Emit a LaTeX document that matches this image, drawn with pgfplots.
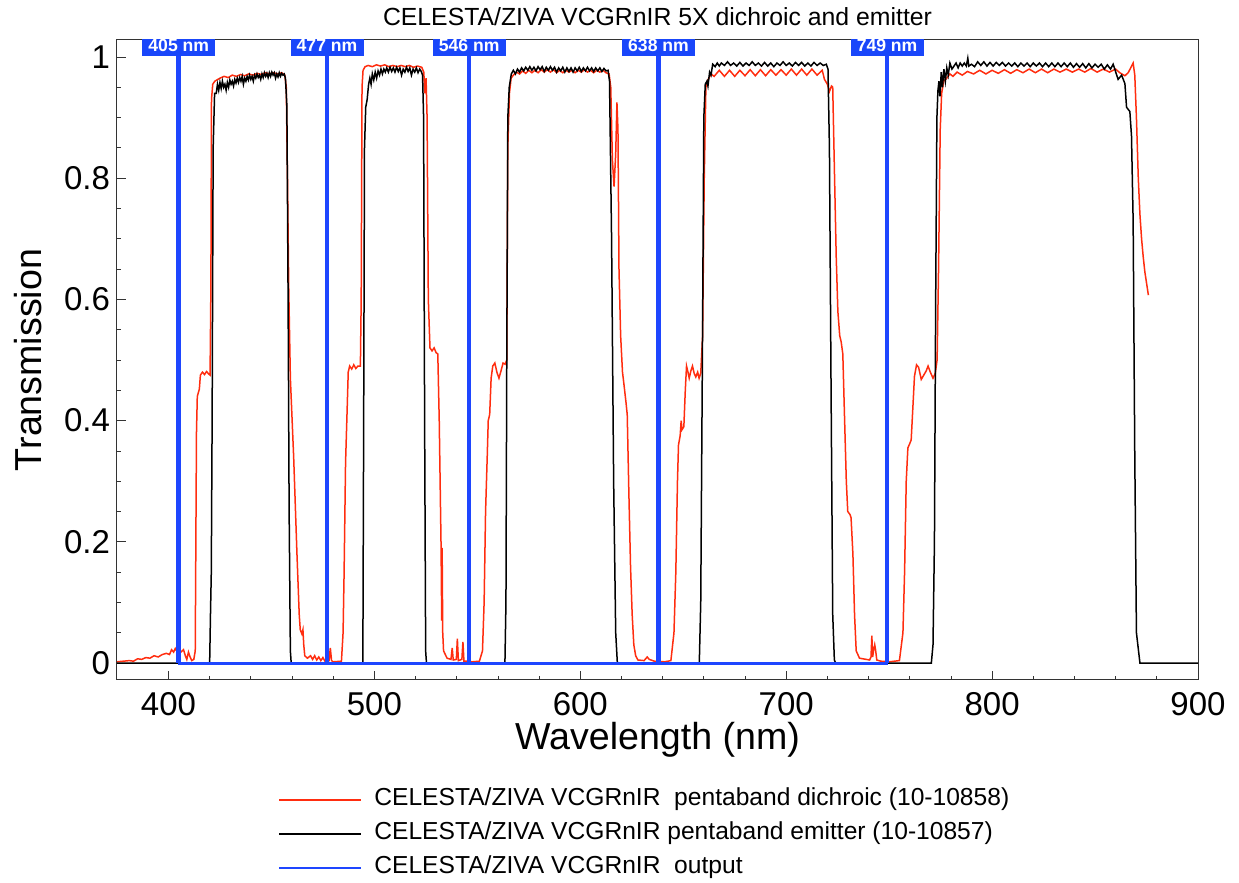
\documentclass[border=0pt]{standalone}
\usepackage{pgfplots}
\pgfplotsset{compat=1.18}
\usepackage{fontspec}
\setmainfont{Liberation Sans}
\definecolor{cred}{RGB}{255,45,15}
\definecolor{cblue}{RGB}{30,70,255}
\definecolor{cbox}{RGB}{25,70,250}
\begin{document}
\begin{tikzpicture}
\begin{axis}[
  scale only axis, width=540.5pt, height=320pt,
  xmin=375, xmax=900, ymin=-0.028, ymax=1.028,
  xtick={400,500,...,900}, minor x tick num=4,
  ytick={0,0.2,...,1}, minor y tick num=3,
  tick align=inside, xtick pos=bottom, ytick pos=left,
  major tick length=4.5pt, minor tick length=2.2pt,
  axis line style={line width=0.5pt, black!80},
  every tick/.style={black!80, line width=0.4pt},
  /pgf/number format/assume math mode=true,
  ticklabel style={font=\fontsize{16.5}{19}\selectfont},
  xticklabel style={yshift=-2.5pt},
  yticklabel style={/pgf/number format/fixed},
  xlabel={Wavelength (nm)}, ylabel={Transmission},
  every axis x label/.style={at={([yshift=-30pt]axis description cs:0.5,0)}, anchor=center, font=\fontsize{18.8}{22}\selectfont},
  every axis y label/.style={at={([xshift=-44.5pt]axis description cs:0,0.5)}, rotate=90, anchor=center, font=\fontsize{18.8}{22}\selectfont},
  title={CELESTA/ZIVA VCGRnIR 5X dichroic and emitter},
  every axis title/.style={at={([yshift=11.5pt]axis description cs:0.5,1)}, anchor=center, font=\fontsize{12.4}{14}\selectfont},
  legend style={at={(axis description cs:0,0)}, anchor=north west, xshift=80.5pt, yshift=-54pt, draw=none, fill=none, inner sep=0pt, row sep=5pt, column sep=6pt, font=\fontsize{12.3}{14}\selectfont, nodes={inner sep=0pt, text height=8.8pt, text depth=3.2pt}},
  legend cell align=left,
  legend image code/.code={\draw[#1] (0pt,0pt) -- (41pt,0pt);},
  clip=true,
]
\addlegendimage{cred, line width=1pt}
\addlegendentry{CELESTA/ZIVA VCGRnIR\ \ pentaband dichroic (10-10858)}
\addlegendimage{black, line width=1pt}
\addlegendentry{CELESTA/ZIVA VCGRnIR pentaband emitter (10-10857)}
\addlegendimage{cblue, line width=1pt}
\addlegendentry{CELESTA/ZIVA VCGRnIR\ \ output}
\addplot[cred, line width=0.75pt, forget plot] coordinates {
(375,0.002)(378,0.003)(381,0.004)(383,0.003)(385,0.007)(387,0.006)(389,0.009)(391,0.008)(393,0.012)(395,0.01)(397,0.014)(399,0.016)(400.5,0.014)(401.5,0.022)(402.5,0.018)(403.3,0.024)(404,0.02)(405,0.025)(406,0.018)(407.3,0.022)(408.2,0.012)(408.9,0.006)(409.7,0.018)(410.5,0.01)(411.3,0.004)(412.3,0.006)(413,0.02)(413.3,0.2)(413.6,0.38)(414,0.44)(415,0.452)(415.5,0.475)(416.5,0.48)(417.5,0.476)(418.5,0.481)(419.5,0.477)(420.2,0.475)(420.6,0.62)(420.9,0.93)(421.5,0.955)(422.5,0.96)(423.5,0.962)(425,0.965)(427,0.968)(429,0.966)(431,0.97)(433,0.968)(435,0.971)(437,0.969)(439,0.972)(441,0.97)(443,0.973)(445,0.971)(447,0.974)(449,0.972)(451,0.974)(453,0.972)(455,0.974)(456.5,0.97)(457.2,0.95)(457.8,0.8)(458.4,0.62)(459.2,0.47)(460.8,0.34)(462.4,0.18)(463.5,0.08)(464,0.055)(464.8,0.048)(465.3,0.055)(465.7,0.03)(466.2,0.012)(467.5,0.008)(469,0.012)(470,0.006)(471,0.012)(472,0.005)(473,0.01)(474,0.004)(475,0.009)(476,0.003)(478,0.004)(478.6,0.025)(479.2,0.004)(480,0.002)(484,0.003)(484.8,0.05)(485.3,0.15)(486,0.33)(486.7,0.41)(487.3,0.48)(488,0.49)(489,0.485)(490,0.492)(491,0.486)(492,0.49)(493.2,0.49)(493.6,0.6)(494,0.95)(494.5,0.978)(495.5,0.984)(497,0.986)(499,0.984)(501,0.987)(503,0.985)(505,0.987)(507,0.984)(509,0.986)(511,0.984)(513,0.986)(515,0.984)(517,0.986)(519,0.983)(521,0.985)(523,0.983)(524,0.975)(524.5,0.94)(525.1,0.965)(525.6,0.9)(526.2,0.6)(527,0.52)(528,0.515)(529,0.52)(530,0.512)(530.8,0.51)(531.5,0.4)(532.4,0.19)(532.7,0.07)(532.9,0.19)(533.2,0.05)(533.6,0.02)(535.3,0.008)(537.2,0.006)(537.8,0.025)(538.3,0.005)(539.8,0.006)(540.3,0.04)(540.8,0.004)(542.5,0.006)(543,0.035)(543.5,0.003)(545,0.003)(547.5,0.002)(551,0.003)(552.5,0.02)(553.3,0.1)(554,0.25)(554.8,0.34)(555.3,0.4)(556,0.41)(556.7,0.47)(557.5,0.49)(558.5,0.495)(559.5,0.48)(560.5,0.47)(561.5,0.482)(562.5,0.495)(563.5,0.493)(564.3,0.5)(564.8,0.85)(565.6,0.94)(566.4,0.965)(567.5,0.97)(569,0.975)(570.5,0.972)(572,0.977)(573.5,0.973)(575,0.978)(576.5,0.974)(578,0.978)(579.5,0.974)(581,0.979)(582.5,0.975)(584,0.979)(585.5,0.975)(587,0.979)(588.5,0.974)(590,0.978)(591.5,0.974)(593,0.978)(594.5,0.975)(596,0.978)(597.5,0.974)(599,0.978)(600.5,0.975)(602,0.979)(603.5,0.975)(605,0.978)(606.5,0.974)(608,0.978)(609.5,0.975)(611,0.978)(612.5,0.974)(614,0.972)(614.8,0.95)(615.6,0.83)(616.4,0.786)(617.2,0.84)(617.8,0.925)(618.3,0.88)(618.8,0.65)(619.6,0.54)(620.5,0.48)(621.2,0.46)(622.2,0.43)(622.8,0.41)(623.6,0.28)(624.4,0.16)(625.2,0.08)(626,0.03)(626.9,0.012)(628,0.005)(631,0.004)(632.5,0.01)(633.5,0.006)(636,0.003)(641,0.002)(644,0.004)(645.5,0.05)(646.4,0.15)(647.2,0.3)(647.7,0.36)(648.5,0.375)(649,0.4)(649.4,0.385)(650.3,0.39)(651,0.45)(651.6,0.49)(652.3,0.48)(652.9,0.47)(653.7,0.482)(654.5,0.49)(655.3,0.478)(656.1,0.472)(657,0.48)(657.7,0.47)(658.5,0.478)(659.4,0.54)(660.2,0.8)(661,0.95)(662,0.962)(663.5,0.972)(665,0.968)(667.5,0.978)(670,0.968)(672.5,0.978)(675,0.968)(677.5,0.978)(680,0.969)(682.5,0.979)(685,0.969)(687.5,0.979)(690,0.969)(692.5,0.979)(695,0.97)(697.5,0.979)(700,0.97)(702.5,0.98)(705,0.97)(707.5,0.98)(710,0.97)(712.5,0.98)(715,0.97)(717.5,0.978)(718.6,0.963)(720,0.955)(721,0.943)(722,0.952)(722.6,0.95)(723.5,0.8)(724.3,0.67)(725.1,0.58)(726,0.54)(726.7,0.53)(727.5,0.51)(728.3,0.41)(729.2,0.3)(729.9,0.25)(731,0.245)(731.5,0.24)(732.4,0.18)(733.2,0.08)(734,0.02)(735.6,0.008)(740.5,0.005)(741.2,0.01)(741.6,0.045)(742,0.01)(742.4,0.02)(743,0.03)(743.4,0.022)(744,0.005)(746,0.003)(750,0.002)(755,0.004)(756.7,0.05)(757.5,0.15)(758.3,0.3)(759.1,0.355)(760,0.362)(760.7,0.368)(761.5,0.42)(762.3,0.473)(763.3,0.492)(764.3,0.488)(765.6,0.468)(766.8,0.475)(768,0.482)(768.9,0.49)(770,0.48)(771.3,0.47)(772.4,0.478)(773.3,0.5)(774,0.65)(774.8,0.88)(775.5,0.94)(776.5,0.96)(778,0.965)(779.5,0.972)(781,0.968)(783,0.975)(785.5,0.97)(788,0.976)(791,0.972)(794,0.978)(797,0.972)(800,0.978)(803,0.973)(806,0.979)(809,0.973)(812,0.979)(815,0.974)(818,0.98)(821,0.974)(824,0.98)(827,0.974)(830,0.98)(833,0.975)(836,0.98)(839,0.975)(842,0.98)(845,0.975)(848,0.981)(851,0.975)(854,0.98)(857,0.975)(860,0.98)(862,0.974)(864.5,0.969)(866.1,0.974)(867.3,0.982)(868.5,0.99)(869.3,0.97)(870.1,0.9)(871,0.8)(871.8,0.74)(872.6,0.7)(873.4,0.67)(874.2,0.645)(875.1,0.625)(875.9,0.607)
};
\addplot[black, line width=0.75pt, forget plot] coordinates {
(375,0)(420,0)(420.4,0.08)(420.8,0.15)(421.2,0.4)(421.7,0.85)(422.4,0.94)(423.2,0.94)(423.8,0.955)(424.4,0.945)(425,0.958)(425.6,0.948)(426.2,0.96)(426.8,0.95)(427.4,0.955)(428,0.945)(428.6,0.958)(429.2,0.95)(429.8,0.962)(430.4,0.955)(431,0.96)(431.6,0.952)(432.2,0.963)(432.8,0.957)(433.4,0.965)(434,0.958)(434.6,0.966)(435.2,0.96)(435.8,0.968)(436.4,0.955)(437,0.965)(437.6,0.96)(438.2,0.968)(438.8,0.962)(439.4,0.97)(440,0.963)(440.6,0.968)(441.2,0.96)(441.8,0.97)(442.4,0.965)(443,0.972)(443.6,0.966)(444.2,0.97)(444.8,0.963)(445.4,0.972)(446,0.966)(446.6,0.974)(447.2,0.968)(447.8,0.973)(448.4,0.966)(449,0.974)(449.6,0.968)(450.2,0.975)(450.8,0.97)(451.4,0.974)(452,0.965)(452.6,0.972)(453.2,0.967)(453.8,0.974)(454.4,0.968)(455,0.973)(455.6,0.97)(456.2,0.972)(456.8,0.965)(457.5,0.92)(458.1,0.6)(458.6,0.25)(459.2,0.02)(459.6,0)(494.4,0)(494.8,0.4)(495.2,0.85)(495.8,0.917)(496.5,0.93)(497.2,0.955)(497.8,0.965)(498.4,0.955)(499,0.972)(499.7,0.962)(500.4,0.975)(501.1,0.965)(501.8,0.977)(502.5,0.97)(503.2,0.98)(503.9,0.972)(504.6,0.98)(505.3,0.975)(506,0.982)(506.8,0.975)(507.6,0.983)(508.4,0.976)(509.2,0.982)(510,0.975)(510.8,0.983)(511.6,0.976)(512.4,0.982)(513.2,0.97)(514,0.98)(514.8,0.975)(515.6,0.983)(516.4,0.976)(517.2,0.982)(518,0.97)(518.8,0.98)(519.6,0.975)(520.4,0.982)(521.2,0.974)(522,0.98)(522.8,0.976)(523.4,0.97)(523.9,0.9)(524.4,0.4)(524.9,0.02)(525.3,0)(563.4,0)(563.9,0.1)(564.3,0.5)(564.8,0.9)(565.5,0.95)(566.5,0.972)(567.5,0.978)(568.5,0.972)(569.5,0.98)(570.5,0.975)(571.5,0.982)(572.5,0.977)(573.5,0.983)(574.5,0.978)(575.5,0.984)(576.5,0.978)(577.5,0.983)(578.5,0.977)(579.5,0.984)(580.5,0.979)(581.5,0.984)(582.5,0.976)(583.5,0.983)(584.5,0.978)(585.5,0.984)(586.5,0.978)(587.5,0.983)(588.5,0.975)(589.5,0.982)(590.5,0.977)(591.5,0.983)(592.5,0.975)(593.5,0.982)(594.5,0.976)(595.5,0.982)(596.5,0.975)(597.5,0.982)(598.5,0.977)(599.5,0.983)(600.5,0.976)(601.5,0.982)(602.5,0.977)(603.5,0.983)(604.5,0.977)(605.5,0.982)(606.5,0.976)(607.5,0.982)(608.5,0.977)(609.5,0.982)(610.5,0.976)(611.5,0.981)(612.5,0.977)(613.5,0.978)(614.2,0.96)(615.2,0.7)(616.2,0.3)(617.2,0.05)(618,0)(657.8,0)(658.5,0.1)(659.3,0.5)(660,0.9)(660.7,0.955)(661.5,0.96)(662,0.952)(662.8,0.975)(663.5,0.97)(664.3,0.988)(665.5,0.984)(666.5,0.99)(667.5,0.985)(668.5,0.99)(670,0.986)(671.5,0.992)(673,0.986)(674.5,0.99)(676,0.985)(677.5,0.991)(679,0.985)(680.5,0.99)(682,0.986)(683.5,0.992)(685,0.986)(686.5,0.99)(688,0.985)(689.5,0.991)(691,0.985)(692.5,0.99)(694,0.984)(695.5,0.99)(697,0.986)(698.5,0.992)(700,0.986)(701.5,0.99)(703,0.985)(704.5,0.991)(706,0.986)(707.5,0.991)(709,0.985)(710.5,0.99)(712,0.985)(713.5,0.991)(715,0.986)(716.5,0.99)(718,0.986)(719.5,0.988)(720.3,0.98)(721,0.85)(721.8,0.45)(722.6,0.08)(723.4,0.005)(724,0)(770.5,0)(771.3,0.03)(772,0.2)(772.6,0.6)(773.2,0.9)(773.7,0.945)(774.2,0.96)(774.7,0.935)(775.3,0.975)(775.9,0.95)(776.6,0.98)(777.3,0.96)(778,0.982)(778.7,0.97)(779.5,0.99)(780.5,0.98)(781.5,0.985)(782.5,0.99)(783.5,0.982)(784.5,0.99)(785.5,0.985)(786.5,0.99)(787.5,0.985)(788.2,0.998)(788.7,0.985)(790,0.988)(791.5,0.984)(793,0.992)(794.5,0.986)(796,0.992)(797.5,0.985)(799,0.991)(800.5,0.985)(802,0.991)(803.5,0.986)(805,0.991)(806.5,0.985)(808,0.99)(809.5,0.985)(811,0.99)(812.5,0.984)(814,0.99)(815.5,0.985)(817,0.99)(818.5,0.984)(820,0.99)(821.5,0.985)(823,0.99)(824.5,0.984)(826,0.99)(827.5,0.984)(829,0.99)(830.5,0.984)(832,0.99)(833.5,0.984)(835,0.99)(836.5,0.984)(838,0.99)(839.5,0.983)(841,0.989)(842.5,0.983)(844,0.989)(845.5,0.982)(847,0.989)(848.5,0.982)(850,0.988)(851.5,0.983)(853,0.988)(854.5,0.98)(856,0.987)(857.5,0.98)(858.8,0.988)(861.2,0.963)(862.9,0.97)(864.5,0.956)(865.3,0.917)(866.9,0.91)(867.7,0.87)(868.5,0.73)(869.3,0.34)(870.1,0.05)(871.8,0)(900,0)
};
\addplot[cblue, line width=1.5pt, forget plot] coordinates {
(404.6,0)(404.6,1.1)(405.4,1.1)(405.4,0)(476.6,0)(476.6,1.1)(477.4,1.1)(477.4,0)(545.6,0)(545.6,1.1)(546.4,1.1)(546.4,0)(637.6,0)(637.6,1.1)(638.4,1.1)(638.4,0)(748.6,0)(748.6,1.1)(749.4,1.1)(749.4,0)
};
\node[fill=cbox, text=white, inner sep=0pt, minimum width=36.5pt, minimum height=10.5pt, font=\fontsize{8.8}{10}\selectfont\bfseries] at (axis cs:405,1.019) {405 nm};
\node[fill=cbox, text=white, inner sep=0pt, minimum width=36.5pt, minimum height=10.5pt, font=\fontsize{8.8}{10}\selectfont\bfseries] at (axis cs:477,1.019) {477 nm};
\node[fill=cbox, text=white, inner sep=0pt, minimum width=36.5pt, minimum height=10.5pt, font=\fontsize{8.8}{10}\selectfont\bfseries] at (axis cs:546,1.019) {546 nm};
\node[fill=cbox, text=white, inner sep=0pt, minimum width=36.5pt, minimum height=10.5pt, font=\fontsize{8.8}{10}\selectfont\bfseries] at (axis cs:638,1.019) {638 nm};
\node[fill=cbox, text=white, inner sep=0pt, minimum width=36.5pt, minimum height=10.5pt, font=\fontsize{8.8}{10}\selectfont\bfseries] at (axis cs:749,1.019) {749 nm};
\end{axis}
\pgfresetboundingbox
\path[use as bounding box] (-58.5pt,-101.5pt) rectangle (561pt,340pt);
\end{tikzpicture}
\end{document}
